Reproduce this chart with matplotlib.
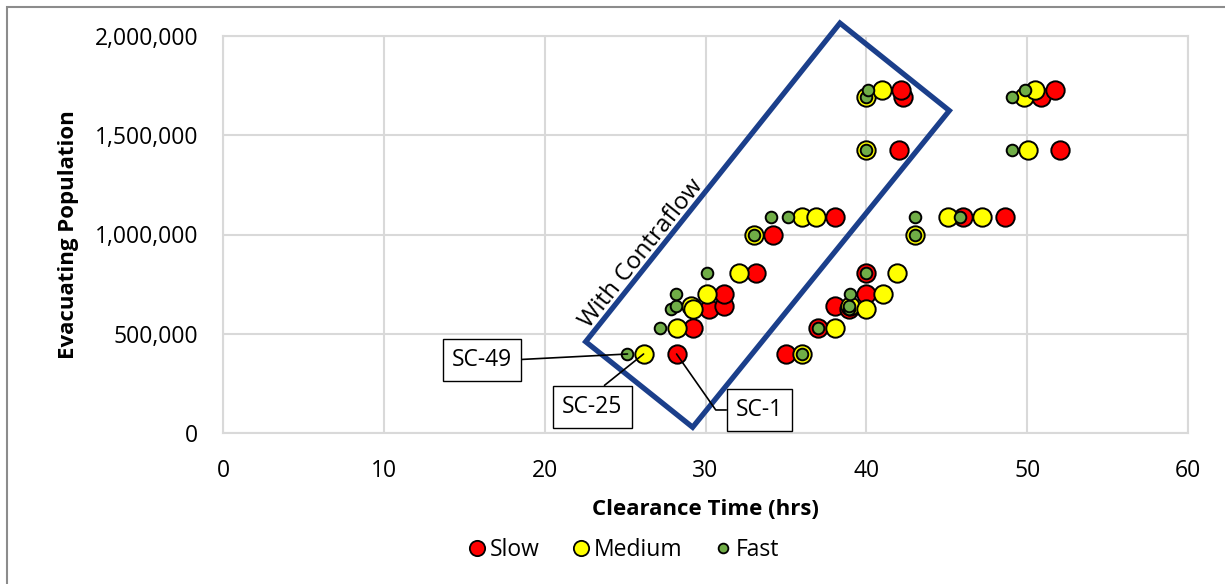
import matplotlib
matplotlib.use("Agg")
import matplotlib.pyplot as plt
from matplotlib.lines import Line2D
from matplotlib.patches import Polygon, Rectangle
from matplotlib.ticker import FuncFormatter

plt.rcParams['font.family'] = ['Open Sans', 'DejaVu Sans']

# Clearance time (hrs) and evacuating population per speed scenario
slow_x = [28.2, 29.2, 30.2, 31.15, 31.15, 33.15, 34.2, 38.05, 42.05, 42.25, 42.15,
          35.0, 37.0, 38.05, 38.95, 40.0, 40.0, 46.0, 48.6, 50.85, 51.75, 52.05]
slow_y = [398e3, 527e3, 625e3, 640e3, 700e3, 808e3, 1000e3, 1087e3, 1426e3, 1691e3, 1728e3,
          398e3, 527e3, 640e3, 625e3, 700e3, 808e3, 1087e3, 1087e3, 1691e3, 1728e3, 1426e3]

medium_x = [26.15, 28.25, 29.1, 29.2, 30.1, 32.1, 33.0, 36.0, 36.9, 40.0, 40.0, 41.0,
            36.0, 38.05, 39.0, 40.0, 41.05, 41.9, 43.0, 45.05, 47.2, 50.05, 49.8, 50.5]
medium_y = [398e3, 527e3, 640e3, 625e3, 700e3, 808e3, 1000e3, 1087e3, 1087e3, 1426e3, 1691e3, 1728e3,
            398e3, 527e3, 640e3, 625e3, 700e3, 808e3, 1000e3, 1087e3, 1087e3, 1426e3, 1691e3, 1728e3]

fast_x = [25.15, 27.15, 27.85, 28.15, 28.15, 30.1, 33.0, 34.05, 35.15, 40.0, 40.0, 40.1,
          36.0, 37.0, 38.95, 38.95, 39.0, 40.0, 43.0, 43.0, 45.8, 49.05, 49.05, 49.85]
fast_y = [398e3, 527e3, 625e3, 640e3, 700e3, 808e3, 1000e3, 1087e3, 1087e3, 1426e3, 1691e3, 1728e3,
          398e3, 527e3, 625e3, 640e3, 700e3, 808e3, 1000e3, 1087e3, 1087e3, 1426e3, 1691e3, 1728e3]

series_names = ["Slow", "Medium", "Fast"]
series_colors = ["#FF0000", "#FFFF00", "#70AD47"]

x_ticks = [0, 10, 20, 30, 40, 50, 60]
y_ticks = [0, 500000, 1000000, 1500000, 2000000]

# Labelled scenarios: (label, series index, point index)
callouts = [("SC-49", 2, 0), ("SC-25", 1, 0), ("SC-1", 0, 0)]

# Outline of the contraflow group (corners in data units)
contraflow_box = [(38.36, 2.065e6), (45.16, 1.624e6), (29.2, 0.029e6), (22.55, 0.46e6)]

fig = plt.figure(figsize=(12.25, 5.84), dpi=100)
ax = fig.add_axes([223 / 1225, 1 - 433 / 584, (1188 - 223) / 1225, (433 - 36) / 584])

# chart-area frame
fig.patches.append(Rectangle((7 / 1225, -0.1), 1.2, 1 - 7 / 584 + 0.1, transform=fig.transFigure,
                             fill=False, edgecolor="#8c8c8c", linewidth=1.5))

grid_c = "#d9d9d9"
ax.set_xlim(0, 60)
ax.set_ylim(0, 2000000)
ax.set_xticks(x_ticks)
ax.set_yticks(y_ticks)
ax.yaxis.set_major_formatter(FuncFormatter(lambda v, p: f"{int(v):,}"))
ax.grid(True, color=grid_c, linewidth=1.5)
ax.set_axisbelow(True)
for s in ax.spines.values():
    s.set_color(grid_c)
    s.set_linewidth(1.5)
ax.tick_params(length=0, labelsize=16.5, pad=18, colors="black")
ax.tick_params(axis="x", pad=19)

xs = [slow_x, medium_x, fast_x]
ys = [slow_y, medium_y, fast_y]
sizes = [175, 175, 70]
for i in range(3):
    ax.scatter(xs[i], ys[i], s=sizes[i], c=series_colors[i], edgecolors="black",
               linewidths=1.4, zorder=3 + i, clip_on=False)

ax.add_patch(Polygon(contraflow_box, closed=True, fill=False, edgecolor="#1b3f8b",
                     linewidth=3.8, zorder=7, clip_on=False, joinstyle="miter"))
ax.text(26.0, 0.905e6, "With Contraflow", rotation=51.4, rotation_mode="anchor",
        ha="center", va="center", fontsize=17.5, zorder=8)

box_pos = {"SC-49": (16.1, 0.368e6), "SC-25": (22.97, 0.131e6), "SC-1": (33.36, 0.116e6)}
rel = {"SC-49": (1, 0.5), "SC-25": (0.5, 1), "SC-1": (0, 0.5)}
conn = {"SC-49": "arc3", "SC-25": "arc3", "SC-1": "angle,angleA=0,angleB=-55,rad=0"}
for label, si, pi in callouts:
    ax.annotate(label, xy=(xs[si][pi], ys[si][pi]), xytext=box_pos[label],
                ha="center", va="center", fontsize=16.5, zorder=9,
                bbox=dict(boxstyle="square,pad=0.4", facecolor="white", edgecolor="black", linewidth=1),
                arrowprops=dict(arrowstyle="-", color="black", linewidth=1.2, shrinkA=0, shrinkB=0,
                                relpos=rel[label], connectionstyle=conn[label]))

ax.set_xlabel("Clearance Time (hrs)", fontsize=16, fontweight="bold", labelpad=11)
ax.set_ylabel("Evacuating Population", fontsize=16, fontweight="bold", labelpad=11)

handles = [Line2D([], [], linestyle="none", marker="o", markersize=ms, markerfacecolor=c,
                  markeredgecolor="black", markeredgewidth=1.3, label=n)
           for n, c, ms in zip(series_names, series_colors, [11, 11, 7])]
fig.legend(handles=handles, loc="center", bbox_to_anchor=(0.508, 1 - 550 / 584), ncol=3,
           frameon=False, fontsize=16.5, handletextpad=0.05, columnspacing=1.3, handlelength=1.0)

fig.savefig("out.png", dpi=100)
